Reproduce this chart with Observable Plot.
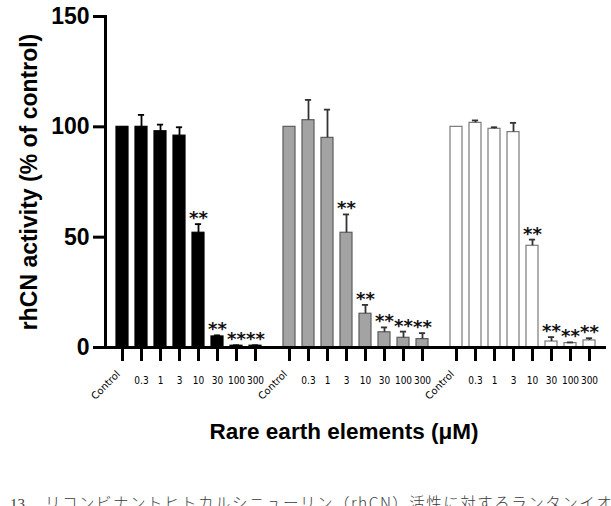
<!DOCTYPE html>
<html>
<head>
<meta charset="utf-8">
<script src="https://cdn.jsdelivr.net/npm/d3@7"></script>
<script src="https://cdn.jsdelivr.net/npm/@observablehq/plot@0.6"></script>
<style>
  html, body { margin: 0; padding: 0; background: #fff; }
  body { width: 611px; height: 506px; overflow: hidden; position: relative; font-family: "Liberation Sans", Arial, sans-serif; }
  #chart { position: absolute; left: 0; top: 0; }
  #caption { position: absolute; left: 10px; top: 494px; width: 601px; overflow: hidden; white-space: nowrap;
             line-height: 17px; color: #3a3a3a; }
  #caption .num { font-family: "Liberation Serif", serif; font-size: 15px; display: inline-block; width: 35px; }
  #caption .txt { font-family: "Noto Sans CJK JP", sans-serif; font-weight: 300; font-size: 15.5px; letter-spacing: 1.5px; }
</style>
</head>
<body>
<div id="chart"></div>
<div id="caption"><span class="num"></span><span class="txt"></span></div>
<script>
// ---- data ----
const groups = ["Element 1", "Element 2", "Element 3"];
const concentrations = ["Control", "0.3", "1", "3", "10", "30", "100", "300"];
const yTicks = [0, 50, 100, 150];

const meansElement1 = [100, 100, 98, 96, 52, 5, 0.8, 0.8];
const errorsElement1 = [0, 5.4, 3, 3.8, 3.9, 0.5, 0.2, 0.2];
const starsElement1 = ["", "", "", "", "**", "**", "**", "**"];

const meansElement2 = [100, 103, 95, 52, 15.3, 6.9, 4.4, 3.8];
const errorsElement2 = [0, 9.2, 12.8, 8.3, 4, 2.2, 2.8, 2.7];
const starsElement2 = ["", "", "", "**", "**", "**", "**", "**"];

const meansElement3 = [100, 101.8, 99.1, 97.6, 46.1, 2.7, 2.0, 3.2];
const errorsElement3 = [0, 1.1, 0.7, 4.2, 2.8, 2.0, 0.3, 1.0];
const starsElement3 = ["", "", "", "", "**", "**", "**", "**"];

const yLabel = "rhCN activity (% of control)";
const xLabel = "Rare earth elements (μM)";
const captionNumber = "13";
const captionText = "リコンビナントヒトカルシニューリン（rhCN）活性に対するランタンイオンの影響";

// ---- build table ----
const means = [meansElement1, meansElement2, meansElement3];
const errors = [errorsElement1, errorsElement2, errorsElement3];
const stars = [starsElement1, starsElement2, starsElement3];
const rows = [];
groups.forEach((g, gi) => concentrations.forEach((c, i) => rows.push({
  group: g, conc: c, mean: means[gi][i], err: errors[gi][i], stars: stars[gi][i]
})));

// styles
const style = {
  [groups[0]]: {fill: "#000000", stroke: "#000000", err: "#000000"},
  [groups[1]]: {fill: "#a3a3a3", stroke: "#5c5c5c", err: "#333333"},
  [groups[2]]: {fill: "#ffffff", stroke: "#7a7a7a", err: "#333333"}
};

const groupMarks = groups.flatMap(g => {
  const data = rows.filter(d => d.group === g);
  const withErr = data.filter(d => d.err > 0);
  const s = style[g];
  return [
    Plot.barY(data, {fx: "group", x: "conc", y: "mean", fill: s.fill, stroke: s.stroke, strokeWidth: 1.2}),
    Plot.ruleX(withErr, {fx: "group", x: "conc", y1: "mean", y2: d => d.mean + d.err, stroke: s.err, strokeWidth: 1.8}),
    Plot.tickY(withErr, {fx: "group", x: "conc", y: d => d.mean + d.err, stroke: s.err, strokeWidth: 1.8, insetLeft: 2.9, insetRight: 2.9})
  ];
});

const chart = Plot.plot({
  width: 611,
  height: 452,
  marginLeft: 104,
  marginRight: 4,
  marginTop: 16,
  marginBottom: 105,
  style: {fontFamily: "'Liberation Sans', Arial, sans-serif", background: "#fff", color: "#000"},
  fx: {domain: groups, paddingInner: 0, paddingOuter: 0, axis: null, label: null},
  x: {domain: concentrations, paddingInner: 0.36, paddingOuter: 0.5, axis: null, label: null},
  y: {domain: [0, 150], axis: null, label: null},
  marks: [
    ...groupMarks,
    Plot.text(rows.filter(d => d.stars), {
      fx: "group", x: "conc", y: d => d.mean + d.err, text: "stars",
      lineAnchor: "bottom", dy: 0, fontSize: 18, fontWeight: "bold",
      fontFamily: "'DejaVu Sans', sans-serif", fill: "#111"
    }),
    Plot.ruleY([0], {stroke: "#000", strokeWidth: 3}),
    Plot.frame({anchor: "left", stroke: "#000", strokeWidth: 3, facetAnchor: "left"}),
    Plot.axisY({
      ticks: yTicks, tickSize: 12, tickPadding: 4, strokeWidth: 3,
      fontSize: 23, fontWeight: "bold", label: null, tickFormat: d => d
    }),
    Plot.text([yLabel], {
      frameAnchor: "left", textAnchor: "middle", lineAnchor: "middle", rotate: -90, dx: -76,
      fontSize: 23, fontWeight: "bold", facetAnchor: "left"
    }),
    Plot.axisX({
      tickSize: 14, tickPadding: 15, strokeWidth: 3, fontSize: 10,
      fontFamily: "'DejaVu Sans Condensed', 'DejaVu Sans', sans-serif", fontStretch: "condensed", label: null,
      tickFormat: d => d === "Control" ? "" : d
    }),
    Plot.axisX({
      ticks: ["Control"], tickSize: 0, tickPadding: 25, tickRotate: -45, fontSize: 10,
      fontFamily: "'DejaVu Sans', sans-serif", label: null, dx: -4
    }),
    Plot.text([xLabel], {
      fx: () => groups[1], frameAnchor: "bottom", textAnchor: "middle", lineAnchor: "middle",
      dx: -12, dy: 84, fontSize: 22.5, fontWeight: "bold"
    })
  ]
});

document.getElementById("chart").append(chart);
document.querySelector("#caption .num").textContent = captionNumber;
document.querySelector("#caption .txt").textContent = captionText;
</script>
</body>
</html>
